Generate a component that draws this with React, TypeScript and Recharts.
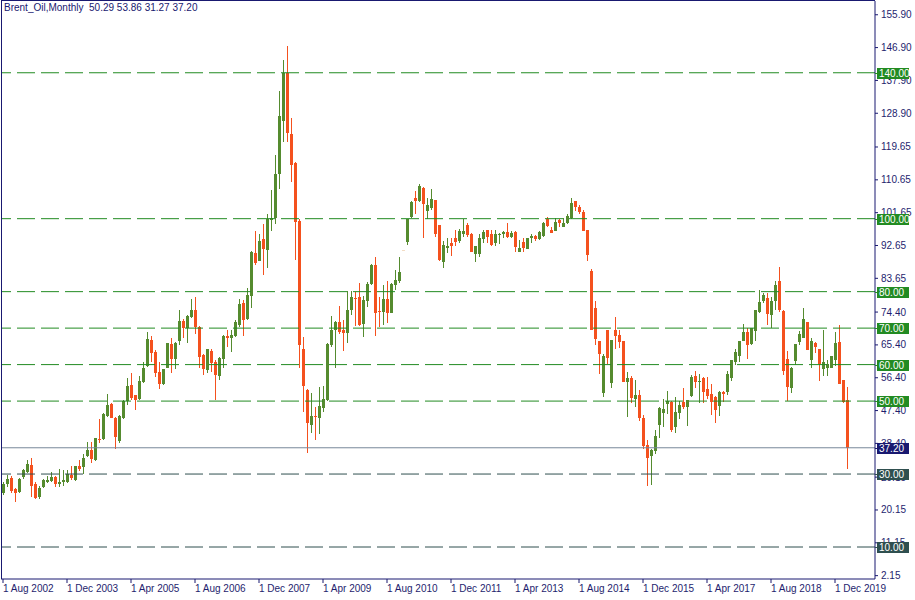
import React from "react";
import { ComposedChart, Bar, XAxis, YAxis, ReferenceLine } from "recharts";

// Monthly candles from Aug 2002 to Mar 2020
const OPEN = [
  24.7, 27.2, 29.0, 25.8, 25.2, 29.1, 30.6, 32.5, 27.4, 23.8, 26.5, 27.9, 28.2, 29.3, 27.4, 27.9,
  27.9, 29.7, 28.4, 32.2, 32.0, 34.9, 36.6, 33.8, 39.6, 39.5, 46.0, 49.2, 45.3, 39.0, 45.3, 50.1,
  54.4, 51.6, 50.6, 55.3, 59.6, 66.7, 63.4, 57.9, 54.7, 59.1, 65.6, 61.5, 66.5, 71.9, 69.9, 73.1,
  74.9, 70.4, 62.6, 58.5, 63.8, 60.7, 56.9, 61.5, 67.8, 67.2, 67.8, 70.8, 76.9, 72.4, 78.9, 90.7,
  88.5, 94.3, 91.4, 99.6, 100.2, 112.2, 126.8, 140.0, 123.2, 115.4, 99.3, 64.3, 53.0, 43.5, 45.9, 45.5,
  48.1, 50.3, 65.4, 69.5, 71.6, 69.5, 68.7, 75.1, 78.3, 78.6, 71.1, 77.5, 82.1, 87.3, 74.7, 74.5,
  77.9, 74.2, 81.8, 83.0, 91.4, 93.7, 100.5, 105.8, 104.9, 108.5, 102.2, 102.8, 105.1, 98.2, 88.2, 92.0,
  93.4, 94.8, 93.9, 95.8, 98.2, 95.9, 90.3, 90.3, 94.3, 96.9, 95.8, 93.4, 95.8, 95.8, 96.4, 95.0,
  96.4, 90.9, 93.5, 91.8, 94.8, 95.2, 94.3, 95.2, 100.0, 96.9, 96.7, 99.6, 97.8, 98.7, 100.3, 104.8,
  103.1, 101.8, 96.9, 85.6, 75.4, 66.4, 52.3, 69.5, 55.0, 69.5, 68.1, 66.4, 55.3, 56.2, 50.7, 51.7,
  45.5, 38.0, 34.9, 36.4, 43.4, 46.8, 49.2, 49.8, 43.0, 46.8, 49.8, 48.5, 51.4, 57.0, 55.3, 56.4,
  53.2, 51.9, 51.2, 48.7, 52.6, 52.6, 56.4, 60.8, 62.3, 66.5, 68.9, 65.6, 69.3, 74.5, 77.4, 78.3,
  73.6, 77.5, 82.9, 74.8, 61.5, 53.7, 61.1, 66.1, 67.4, 71.7, 61.2, 65.8, 64.2, 58.7, 59.2, 59.2,
  61.2, 66.1, 55.8, 50.29,
];
const HIGH = [
  27.8, 29.7, 29.5, 26.3, 28.8, 31.5, 33.8, 34.4, 27.9, 26.7, 28.6, 29.5, 30.6, 29.5, 31.3, 31.1,
  31.1, 32.2, 32.3, 33.8, 35.5, 38.8, 38.9, 40.0, 45.1, 46.6, 51.9, 49.5, 45.5, 46.2, 50.3, 56.2,
  57.6, 51.8, 56.9, 60.7, 68.9, 67.8, 64.0, 60.6, 58.9, 66.0, 67.2, 66.1, 74.9, 72.6, 73.5, 77.9,
  78.6, 70.6, 62.8, 64.4, 64.4, 61.2, 62.2, 68.1, 69.5, 69.5, 72.2, 77.9, 77.7, 80.9, 91.2, 96.6,
  95.8, 98.5, 101.2, 107.8, 117.4, 134.9, 143.6, 147.3, 127.7, 115.6, 100.0, 67.6, 53.2, 52.2, 48.4, 53.9,
  54.1, 65.8, 73.3, 72.0, 76.0, 72.2, 80.1, 80.1, 80.0, 82.4, 78.8, 82.7, 87.7, 89.4, 78.4, 81.8,
  82.9, 82.3, 85.9, 89.4, 91.5, 100.0, 104.9, 107.6, 109.4, 108.6, 105.8, 108.0, 105.2, 98.3, 93.8, 94.6,
  94.6, 97.0, 97.3, 99.8, 98.7, 96.0, 92.6, 95.8, 96.9, 97.0, 96.9, 96.9, 96.0, 96.5, 98.9, 96.7,
  96.5, 94.1, 94.8, 94.7, 95.8, 95.5, 96.7, 99.0, 100.5, 97.8, 100.3, 100.0, 100.3, 101.2, 105.6, 104.9,
  103.7, 102.3, 97.0, 86.1, 77.4, 66.5, 62.9, 69.6, 66.8, 73.1, 69.5, 66.5, 58.0, 56.9, 55.8, 53.0,
  46.2, 39.3, 37.0, 42.2, 48.5, 50.5, 52.7, 49.9, 51.2, 50.1, 53.6, 50.4, 57.1, 58.2, 57.4, 56.7,
  56.7, 54.7, 51.3, 52.8, 52.7, 58.3, 61.3, 64.4, 66.6, 71.1, 69.9, 70.0, 75.1, 80.4, 79.5, 79.5,
  78.4, 82.9, 86.8, 75.1, 63.8, 59.3, 65.7, 69.3, 75.4, 71.8, 67.2, 66.3, 64.4, 69.5, 61.2, 62.4,
  69.0, 70.8, 55.9, 53.86,
];
const LOW = [
  24.2, 26.4, 24.9, 22.3, 24.9, 28.6, 30.4, 23.8, 23.1, 23.1, 26.3, 27.5, 27.9, 26.4, 26.5, 26.7,
  27.6, 28.4, 28.2, 30.9, 30.0, 34.6, 32.9, 33.6, 38.4, 39.3, 45.5, 45.3, 36.8, 38.4, 45.0, 48.9,
  50.3, 47.5, 50.3, 55.0, 59.4, 60.7, 56.7, 53.3, 54.4, 59.0, 57.8, 58.7, 65.4, 67.2, 66.0, 72.9,
  68.5, 59.2, 57.1, 57.6, 58.0, 50.3, 55.9, 59.2, 64.7, 63.5, 67.6, 70.4, 67.8, 72.2, 75.4, 87.3,
  88.3, 84.5, 86.6, 96.7, 98.5, 108.1, 121.0, 121.0, 110.1, 88.6, 59.0, 47.1, 35.9, 41.3, 39.2, 41.0,
  47.1, 50.1, 64.7, 59.1, 68.5, 63.8, 65.8, 73.5, 70.7, 70.7, 67.6, 75.9, 81.8, 67.9, 70.4, 70.8,
  71.5, 74.1, 80.4, 82.3, 91.3, 92.7, 100.3, 101.3, 104.6, 94.6, 99.8, 102.3, 94.9, 88.4, 86.4, 90.5,
  89.7, 92.5, 93.4, 95.0, 95.0, 90.8, 88.2, 89.4, 93.2, 93.2, 92.5, 92.5, 93.0, 94.8, 94.8, 94.8,
  90.9, 90.8, 90.9, 91.7, 93.4, 93.9, 94.1, 95.1, 97.8, 96.1, 96.6, 97.8, 97.7, 98.5, 100.0, 102.1,
  101.4, 96.6, 88.5, 69.5, 65.3, 57.4, 51.2, 60.1, 53.7, 64.4, 64.6, 55.2, 45.7, 49.6, 48.5, 44.5,
  36.8, 26.8, 27.0, 35.5, 39.8, 43.0, 46.5, 41.6, 41.2, 45.0, 47.7, 43.3, 51.2, 53.5, 49.6, 49.6,
  50.5, 46.2, 44.1, 46.0, 49.8, 51.8, 55.5, 59.9, 60.8, 66.4, 61.5, 65.3, 66.5, 74.2, 76.8, 70.8,
  69.9, 74.9, 74.5, 57.1, 50.0, 52.3, 59.9, 65.3, 67.3, 63.9, 59.2, 63.1, 55.5, 56.9, 56.9, 59.1,
  59.6, 54.6, 49.6, 31.27,
];
const CLOSE = [
  27.4, 28.6, 25.4, 24.9, 28.6, 31.1, 32.7, 26.7, 23.5, 26.2, 28.4, 28.5, 29.3, 27.4, 27.7, 28.5,
  30.0, 28.9, 32.2, 31.3, 34.4, 36.6, 34.1, 39.8, 39.3, 46.4, 48.9, 45.4, 40.2, 45.9, 49.9, 54.1,
  50.9, 50.3, 55.5, 59.2, 66.9, 63.3, 57.8, 54.7, 58.7, 65.8, 61.6, 65.8, 71.9, 69.9, 73.3, 74.9,
  70.2, 62.2, 58.7, 64.3, 60.5, 57.1, 61.7, 67.8, 67.3, 68.1, 71.8, 76.7, 72.3, 79.0, 90.9, 87.9,
  93.8, 91.6, 99.8, 100.3, 112.2, 128.1, 139.9, 123.5, 114.7, 99.1, 65.4, 54.2, 44.1, 45.9, 45.7, 48.6,
  50.5, 65.6, 69.5, 71.6, 69.0, 68.6, 75.1, 78.6, 77.9, 70.8, 77.7, 82.1, 87.3, 74.2, 74.5, 78.1,
  74.2, 82.1, 83.2, 85.3, 91.4, 99.8, 104.6, 104.9, 109.0, 104.0, 103.7, 105.3, 95.7, 88.6, 92.7, 92.5,
  92.5, 93.7, 96.7, 96.7, 95.5, 90.9, 92.5, 94.8, 96.3, 95.0, 92.7, 95.9, 95.9, 96.4, 95.0, 96.1,
  92.3, 92.1, 92.1, 94.6, 95.2, 94.3, 96.4, 98.9, 97.9, 96.2, 99.1, 98.7, 98.9, 100.7, 104.2, 103.1,
  101.9, 96.7, 90.0, 69.6, 67.0, 62.8, 62.3, 61.9, 66.7, 67.9, 66.3, 55.3, 56.2, 50.9, 51.7, 45.4,
  37.7, 34.5, 36.6, 40.4, 48.0, 47.8, 50.1, 42.1, 47.1, 48.9, 48.3, 50.2, 56.6, 55.3, 55.5, 52.6,
  51.4, 49.8, 47.5, 52.4, 51.9, 57.4, 61.2, 63.5, 66.5, 68.9, 65.3, 69.9, 74.9, 77.2, 79.0, 73.8,
  77.5, 81.8, 74.9, 58.3, 53.9, 59.2, 65.6, 68.4, 72.4, 64.0, 66.4, 64.7, 60.1, 60.8, 60.1, 62.3,
  65.8, 54.7, 49.8, 37.2,
];

const X_TICK_LABELS = [
  "1 Aug 2002", "1 Dec 2003", "1 Apr 2005", "1 Aug 2006", "1 Dec 2007", "1 Apr 2009", "1 Aug 2010",
  "1 Dec 2011", "1 Apr 2013", "1 Aug 2014", "1 Dec 2015", "1 Apr 2017", "1 Aug 2018", "1 Dec 2019",
];
const X_TICK_STEP = 16; // months between axis labels
const Y_TICKS = [
  2.15, 11.15, 20.15, 29.15, 38.4, 47.4, 56.4, 65.4, 74.4, 83.65, 92.65, 101.65, 110.65, 119.65,
  128.9, 137.9, 146.9, 155.9,
];
const GREEN_LEVELS = [140, 100, 80, 70, 60, 50];
const DARK_LEVELS = [30, 10];
const BID = 37.2;
const EMPTY_SLOTS = 6;
const TITLE = "Brent_Oil,Monthly  50.29 53.86 31.27 37.20";

const BULL = "#558B2F";
const BEAR = "#F4511E";
const PALE = "#F3DCC4";
const NAVY = "#191970";
const TEXT = "#1E1E6E";
const GREEN_LINE = "#228B22";
const DARK_LINE = "#2F4F4F";
const BID_LINE = "#778899";
const FONT = "'Liberation Sans', Arial, sans-serif";
const Y_DOMAIN: [number, number] = [1.23, 159.67];
const W = 915;
const H = 600;
const MARGIN = { top: 1, right: 0, bottom: 0, left: 1 };
const PRICE_AXIS_WIDTH = 40;
const TIME_AXIS_HEIGHT = 21;

const X_TICK_IDX = X_TICK_LABELS.map((_, k) => k * X_TICK_STEP);

const rows: any[] = [];
for (let i = 0; i < OPEN.length + EMPTY_SLOTS; i++) {
  if (i < OPEN.length) rows.push({ idx: i, o: OPEN[i], h: HIGH[i], l: LOW[i], c: CLOSE[i] });
  else rows.push({ idx: i });
}

const Candle = (props: any) => {
  const { x, y, width, height, payload } = props;
  if (!payload || payload.h == null || x == null) return null;
  const top = Math.min(y, y + height);
  const bot = Math.max(y, y + height);
  const span = payload.h - payload.l;
  const toY = (v: number) => (span > 0 ? top + ((payload.h - v) / span) * (bot - top) : top);
  const cx = Math.round(x + width / 2);
  const up = payload.c >= payload.o;
  const color = span < 0.5 ? PALE : up ? BULL : BEAR;
  const bTop = Math.round(toY(Math.max(payload.o, payload.c)));
  const bBot = Math.round(toY(Math.min(payload.o, payload.c)));
  return (
    <g>
      <line x1={cx + 0.5} x2={cx + 0.5} y1={Math.round(top)} y2={Math.round(bot)} stroke={color} strokeWidth={1} />
      <rect x={cx - 1} y={bTop} width={3} height={Math.max(1, bBot - bTop)} fill={color} />
    </g>
  );
};

const XTick = (props: any) => {
  const { x, y, payload } = props;
  const k = X_TICK_IDX.indexOf(payload.value);
  if (k < 0) return null;
  return (
    <text x={x} y={y} dy="0.71em" textAnchor="start" fill={TEXT} fontSize={10} fontFamily={FONT}>
      {X_TICK_LABELS[k]}
    </text>
  );
};

const YTick = (props: any) => {
  const { x, y, payload } = props;
  return (
    <text x={x} y={y} dy="0.35em" textAnchor="start" fill={TEXT} fontSize={10} fontFamily={FONT}>
      {Number(payload.value).toFixed(2)}
    </text>
  );
};

const boxLabel = (value: number, bg: string) => (p: any) => {
  const vb = p.viewBox || {};
  const edge = Math.round(vb.x + vb.width);
  const bx = edge + 2;
  const by = Math.round(vb.y);
  return (
    <g>
      <line x1={edge} x2={bx} y1={by + 0.5} y2={by + 0.5} stroke={bg} />
      <rect x={bx} y={by - 5} width={32} height={11} fill={bg} />
      <text x={bx + 2} y={by + 0.5} dy="0.35em" textAnchor="start" fill="#FFFFFF" fontSize={10} fontFamily={FONT}>
        {value.toFixed(2)}
      </text>
    </g>
  );
};

const LEVELS: { v: number; line: string; box: string; dash?: string }[] = [
  ...GREEN_LEVELS.map((v) => ({ v, line: GREEN_LINE, box: GREEN_LINE, dash: "18 6" })),
  ...DARK_LEVELS.map((v) => ({ v, line: DARK_LINE, box: DARK_LINE, dash: "18 6" })),
  { v: BID, line: BID_LINE, box: NAVY },
];

export default function App() {
  return (
    <div style={{ position: "absolute", left: 0, top: 0, width: W, height: H, background: "#FFFFFF", overflow: "hidden" }}>
      <ComposedChart width={W} height={H} data={rows} margin={MARGIN} barCategoryGap={0} barGap={0}>
        <XAxis
          dataKey="idx"
          type="category"
          ticks={X_TICK_IDX}
          interval={0}
          height={TIME_AXIS_HEIGHT}
          tickSize={4}
          tickMargin={2}
          padding={{ left: 0, right: 2 }}
          axisLine={{ stroke: NAVY }}
          tickLine={{ stroke: NAVY }}
          tick={<XTick />}
        />
        <YAxis
          orientation="right"
          width={PRICE_AXIS_WIDTH}
          domain={Y_DOMAIN}
          allowDataOverflow
          ticks={Y_TICKS}
          interval={0}
          tickSize={3}
          tickMargin={3}
          axisLine={{ stroke: NAVY }}
          tickLine={{ stroke: NAVY }}
          tick={<YTick />}
        />
        {LEVELS.map((L) => (
          <ReferenceLine key={"l" + L.v} y={L.v} stroke={L.line} strokeDasharray={L.dash} />
        ))}
        <Bar
          dataKey={(d: any) => (d.h == null ? null : [d.l, d.h])}
          shape={<Candle />}
          isAnimationActive={false}
        />
      </ComposedChart>
      {/* overlay chart with the same scales: the level price boxes sit above the axis texts */}
      <div style={{ position: "absolute", left: 0, top: 0, pointerEvents: "none" }}>
        <ComposedChart
          width={W}
          height={H}
          data={rows}
          margin={{
            top: MARGIN.top,
            left: MARGIN.left,
            right: MARGIN.right + PRICE_AXIS_WIDTH,
            bottom: MARGIN.bottom + TIME_AXIS_HEIGHT,
          }}
        >
          <XAxis dataKey="idx" type="category" hide padding={{ left: 0, right: 2 }} />
          <YAxis hide domain={Y_DOMAIN} allowDataOverflow />
          {LEVELS.map((L) => (
            <ReferenceLine
              key={"b" + L.v}
              y={L.v}
              stroke={L.line}
              strokeOpacity={0}
              label={{ content: boxLabel(L.v, L.box) } as any}
            />
          ))}
        </ComposedChart>
      </div>
      <div
        style={{
          position: "absolute",
          left: 1,
          top: 0,
          width: 874,
          height: 579,
          borderLeft: "1px solid " + NAVY,
          borderTop: "1px solid " + NAVY,
          boxSizing: "border-box",
          pointerEvents: "none",
        }}
      />
      <div
        style={{
          position: "absolute",
          left: 4,
          top: 2,
          fontFamily: FONT,
          fontSize: 10,
          color: NAVY,
          whiteSpace: "pre",
          lineHeight: "12px",
        }}
      >
        {TITLE}
      </div>
    </div>
  );
}
